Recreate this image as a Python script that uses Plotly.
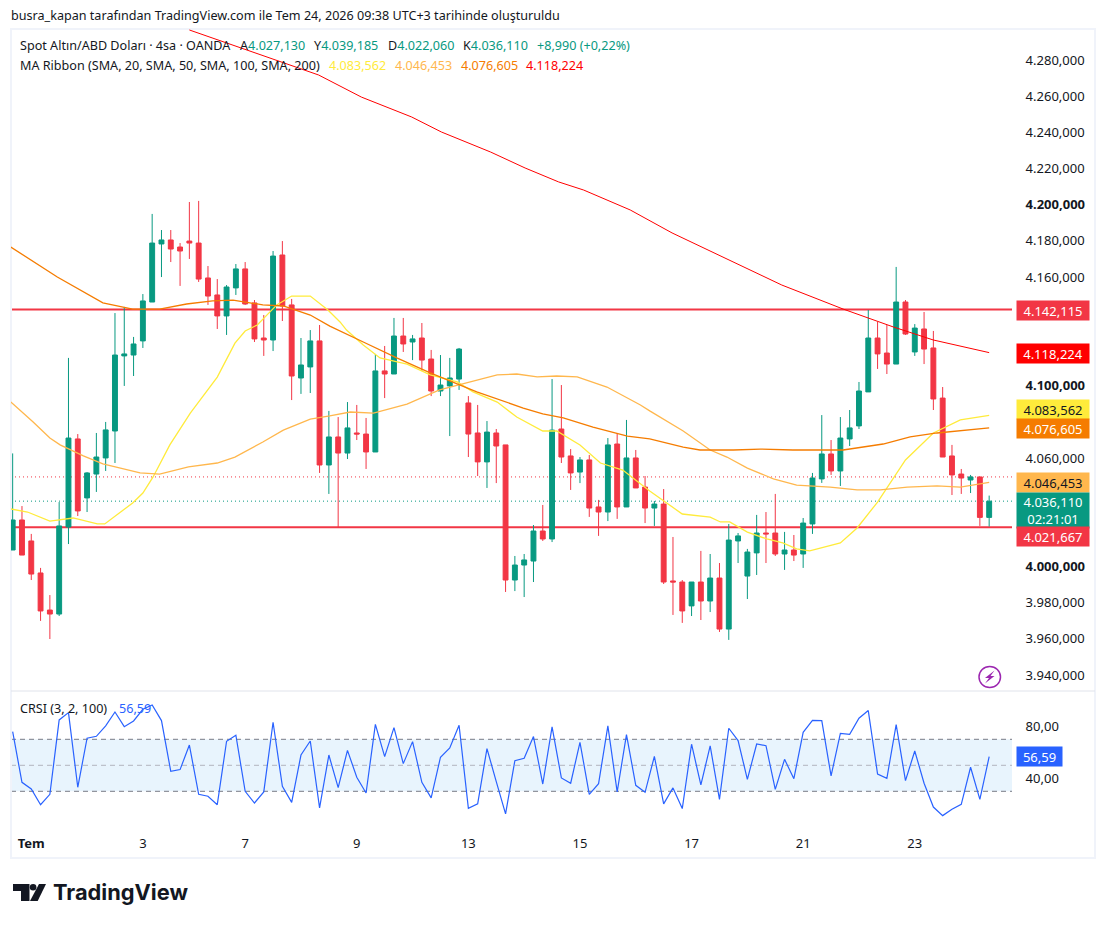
import plotly.graph_objects as go

# ---------- data (prices in thousands of the quoted unit) ----------
open_ = [4009.1,4025.7,4014.1,3996.4,3975.9,3973.7,4021.8,4070.5,4037.9,4051.1,4060.0,4074.9,4116.4,4116.9,4124.7,4146.2,
         4178.3,4180.5,4176.6,4179.9,4178.8,4159.5,4150.1,4138.5,4154.0,4164.5,4145.7,4126.3,4125.2,4172.2,4144.6,4104.2,
         4110.3,4124.7,4056.1,4071.6,4062.7,4073.8,4073.2,4063.3,4108.1,4106.4,4127.4,4124.1,4126.3,4114.7,4097.0,4099.8,
         4103.6,4090.4,4073.8,4057.8,4073.8,4067.2,3992.5,4000.8,4003.0,4019.6,4015.2,4076.0,4061.1,4052.2,4058.9,4032.9,
         4030.1,4067.7,4032.9,4060.0,4043.9,4032.3,4034.5,3992.0,3991.4,3978.2,3991.4,3980.9,3993.6,3965.4,4014.1,3994.7,
         4007.5,4018.5,4018.5,4006.9,4009.1,4006.9,4023.5,4048.4,4062.2,4052.8,4070.5,4077.7,4096.5,4126.3,4118.0,4111.9,
         4146.2,4118.6,4131.3,4120.8,4093.1,4061.1,4051.1,4047.8,4049.5,4027.13]
high_ = [4062.5,4033.4,4018.0,3999.2,3984.2,4035.6,4115.3,4073.2,4052.2,4073.8,4079.9,4140.1,4143.5,4126.9,4150.6,4194.9,
         4186.0,4186.0,4178.8,4201.5,4202.1,4166.1,4158.9,4155.6,4167.2,4168.3,4147.3,4139.0,4174.4,4179.9,4147.9,4126.3,
         4130.7,4133.5,4086.0,4082.6,4090.9,4089.3,4082.1,4117.5,4121.9,4137.4,4137.4,4128.0,4134.6,4119.7,4116.9,4115.3,
         4120.8,4094.2,4089.3,4080.4,4076.0,4067.2,4005.8,4006.9,4022.9,4034.0,4103.6,4100.3,4064.9,4060.5,4061.6,4036.8,
         4071.0,4073.8,4081.0,4064.4,4050.0,4036.2,4042.8,4016.3,3992.5,3991.4,4008.6,4006.9,4001.9,4023.5,4018.5,4009.7,
         4028.5,4030.1,4040.1,4019.1,4017.4,4026.8,4051.7,4083.7,4069.9,4082.6,4086.5,4102.0,4141.8,4135.2,4133.5,4165.6,
         4147.3,4134.0,4140.7,4130.2,4099.2,4067.2,4053.9,4050.6,4049.5,4039.185]
low_ = [4009.1,4006.3,3992.5,3969.9,3959.9,3972.6,4012.4,4027.9,4030.1,4041.2,4052.8,4057.2,4099.8,4105.3,4120.8,4146.2,
        4160.0,4168.3,4155.1,4170.0,4157.3,4144.6,4131.3,4128.0,4150.1,4144.6,4124.1,4116.4,4119.1,4135.7,4092.0,4095.4,
        4095.9,4051.7,4040.1,4021.3,4059.4,4069.9,4053.9,4063.3,4093.1,4106.4,4118.6,4114.1,4108.1,4094.2,4094.2,4072.1,
        4097.6,4060.5,4050.0,4043.4,4046.1,3985.9,3986.4,3983.1,3991.4,4014.1,4013.5,4057.2,4042.3,4046.1,4027.4,4016.9,
        4025.1,4026.3,4032.9,4043.4,4024.0,4022.4,3990.3,3973.2,3968.8,3972.6,3970.4,3974.8,3963.8,3959.4,4001.9,3982.0,
        3995.3,4001.9,4005.8,3998.1,4003.0,3999.2,4018.0,4046.2,4050.6,4044.5,4066.6,4076.0,4096.5,4109.2,4106.4,4111.9,
        4128.0,4116.4,4111.9,4086.5,4060.5,4039.5,4040.1,4040.6,4022.4,4022.06]
close_ = [4025.7,4006.3,3995.8,3975.4,3973.7,4022.4,4071.0,4030.7,4051.7,4060.5,4075.5,4116.9,4117.5,4123.0,4146.8,4178.8,
          4180.5,4175.5,4174.4,4178.8,4158.9,4149.5,4138.5,4154.5,4164.5,4145.1,4125.8,4125.2,4171.6,4144.0,4105.3,4111.4,
          4124.7,4056.1,4071.6,4062.7,4076.6,4073.2,4063.3,4108.1,4106.4,4127.4,4123.0,4125.8,4114.1,4097.0,4100.3,4104.2,
          4120.2,4073.2,4057.8,4074.3,4066.6,3992.5,4000.8,4003.6,4019.6,4015.2,4075.4,4060.5,4051.7,4058.9,4032.3,4030.1,
          4067.2,4032.9,4060.0,4043.4,4032.3,4034.5,3991.4,3991.4,3975.4,3991.4,3980.9,3993.6,3965.4,4014.6,4016.9,4008.0,
          4018.5,4018.0,4006.9,4009.1,4006.3,4024.0,4048.9,4062.2,4052.8,4071.0,4076.6,4097.0,4126.3,4117.5,4111.9,4146.2,
          4128.5,4131.8,4120.2,4092.6,4060.5,4050.6,4048.9,4049.5,4027.13,4036.11]
bars = list(range(len(close_)))

sma20_x = [-0.2,1.6,4.0,5.1,6.5,9.1,9.9,12.9,14.0,15.1,16.9,19.1,22.0,23.9,25.0,26.3,28.4,30.0,32.0,33.9,35.2,35.9,37.7,39.5,42.4,
           44.9,47.8,49.5,52.1,54.2,57.0,58.5,61.0,63.2,65.6,68.5,69.9,72.0,75.0,76.1,77.1,79.0,81.1,82.8,84.3,85.7,89.0,90.8,
           93.0,96.0,99.0,101.9,105]
sma20 = [4031.8,4030.1,4025.1,4025.7,4026.8,4023.5,4023.5,4035.1,4040.6,4049.5,4067.2,4084.8,4104.7,4123.5,4130.2,4133.5,4144.6,
         4149.5,4149.5,4141.8,4135.2,4130.7,4122.4,4115.3,4111.9,4105.9,4102.0,4096.5,4090.9,4082.6,4074.9,4074.9,4067.2,4057.2,
         4053.3,4041.7,4036.7,4029.0,4027.3,4024.6,4024.6,4019.0,4015.2,4013.0,4009.7,4008.6,4013.0,4021.3,4035.6,4058.9,4073.8,
         4081.0,4083.562]
sma50_x = [-0.2,2.2,4.0,5.1,7.6,9.7,13.7,15.8,18.9,22.0,23.9,26.9,29.1,32.0,34.1,36.3,38.8,42.4,45.9,49.9,52.1,54.2,56.4,58.5,60.7,
           63.9,67.5,68.5,72.1,75.0,76.8,79.0,81.8,84.3,87.9,90.8,93.3,96.2,99.4,101.9,105]
sma50 = [4090.9,4079.9,4071.0,4067.2,4061.1,4056.7,4051.7,4051.1,4055.0,4057.2,4060.5,4068.8,4075.4,4081.5,4083.2,4085.4,4084.8,
         4089.8,4097.6,4103.1,4105.9,4106.4,4104.8,4105.3,4104.8,4099.2,4089.3,4086.0,4074.9,4064.4,4060.5,4054.4,4048.4,4045.0,
         4043.9,4042.3,4042.3,4043.9,4044.5,4043.9,4046.453]
sma100_x = [-0.2,2.9,4.8,9.7,12.9,15.8,18.7,21.5,23.7,26.9,29.1,32.0,34.1,37.7,41.3,44.9,49.9,54.9,57.0,59.2,62.4,66.1,68.5,72.1,73.9,
            77.5,80.4,83.9,89.3,93.6,96.5,99.4,102.6,105]
sma100 = [4176.6,4166.1,4160.0,4145.7,4142.3,4142.3,4145.1,4146.8,4147.3,4144.6,4144.0,4139.0,4132.9,4124.1,4115.3,4107.0,4096.5,
          4087.6,4084.3,4082.1,4077.1,4072.1,4070.5,4066.0,4064.4,4064.4,4064.9,4064.4,4064.4,4067.7,4071.6,4073.8,4075.4,4076.605]
sma200_x = [19.0,25.2,32.9,37.5,42.9,46.1,51.4,55.1,58.7,61.4,66.4,70.9,76.4,82.7,89.3,94.7,99.0,105]
sma200 = [4296.6,4285.5,4271.7,4259.5,4248.5,4240.2,4229.1,4220.3,4212.6,4208.1,4197.1,4184.4,4171.1,4155.6,4142.3,4132.4,4125.2,4118.224]

crsi = [75.9,36.9,31.8,19.7,27.7,84.9,90.5,33.1,70.8,72.3,80.3,91.0,79.7,84.1,93.1,96.4,84.4,45.4,46.7,65.6,27.7,26.2,19.7,68.5,73.1,
        30.0,21.0,29.5,83.1,33.8,21.5,57.9,68.7,17.2,57.9,32.8,61.5,40.8,28.7,81.5,56.7,79.0,51.3,68.2,36.9,24.9,56.2,63.3,80.8,16.9,
        20.3,62.8,37.4,12.6,53.6,55.4,72.1,35.6,79.5,40.3,36.2,67.7,27.7,35.9,80.3,29.5,73.6,34.6,29.2,56.9,20.3,32.6,16.7,66.2,34.9,
        64.9,23.8,78.5,69.0,39.2,66.4,65.1,31.5,54.6,39.7,75.4,84.6,84.4,41.8,74.6,73.8,86.2,92.1,43.3,40.0,81.3,38.2,61.0,36.2,17.9,
        11.3,16.2,20.0,48.5,23.8,56.59]

price_ticks = [4280,4260,4240,4220,4200,4180,4160,4100,4060,4000,3980,3960,3940]
price_tick_labels = ["4.280,000","4.260,000","4.240,000","4.220,000","<b>4.200,000</b>","4.180,000","4.160,000",
                     "<b>4.100,000</b>","4.060,000","<b>4.000,000</b>","3.980,000","3.960,000","3.940,000"]
date_ticks = [2,14,25,37,49,61,73,85,97]
date_labels = ["<b>Tem</b>","3","7","9","13","15","17","21","23"]
crsi_ticks = [40,80]
crsi_tick_labels = ["40,00","80,00"]
support_levels = [4142.115,4021.667]
last_close = 4036.11
prev_close = 4049.5

# ---------- styling / layout helpers ----------
UP, DOWN = "#089981", "#f23645"
FONT = "Noto Sans"
INK = "#131722"
TXT = 12.6
L, R, T, B = 11, 1095, 29, 858     # outer frame in page pixels
AXIS_X, SPLIT, PANE_B = 1012, 691, 829
W, H = R - L, B - T
px = lambda x: (x - L) / W
py = lambda y: (B - y) / H

fig = go.Figure()
for xs, ys, col, lw in [(sma20_x, sma20, "#ffeb3b", 1.3), (sma50_x, sma50, "#ffb74d", 1.3),
                        (sma100_x, sma100, "#f57c00", 1.3), (sma200_x, sma200, "#ff0000", 1.0)]:
    fig.add_trace(go.Scatter(x=xs, y=ys, mode="lines", line=dict(color=col, width=lw), hoverinfo="skip"))
fig.add_trace(go.Candlestick(
    x=bars, open=open_, high=high_, low=low_, close=close_, whiskerwidth=0,
    increasing=dict(line=dict(color=UP, width=1), fillcolor=UP),
    decreasing=dict(line=dict(color=DOWN, width=1), fillcolor=DOWN)))
fig.add_trace(go.Scatter(x=bars, y=crsi, mode="lines", xaxis="x2", yaxis="y2",
                         line=dict(color="#2962ff", width=1.2), hoverinfo="skip"))

shapes = [
    dict(type="rect", xref="x2 domain", yref="y2", x0=0, x1=1, y0=30, y1=70, fillcolor="#e8f4fd", line_width=0, layer="below"),
    dict(type="line", xref="x2 domain", yref="y2", x0=0, x1=1, y0=70, y1=70, line=dict(color="#787b86", width=1, dash="5px,4px"), layer="below"),
    dict(type="line", xref="x2 domain", yref="y2", x0=0, x1=1, y0=30, y1=30, line=dict(color="#787b86", width=1, dash="5px,4px"), layer="below"),
    dict(type="line", xref="x2 domain", yref="y2", x0=0, x1=1, y0=50, y1=50, line=dict(color="#b2b5be", width=1, dash="5px,4px"), layer="below"),
    dict(type="line", xref="x domain", yref="y", x0=0, x1=1, y0=prev_close, y1=prev_close, line=dict(color=DOWN, width=1, dash="1px,3px"), layer="below"),
    dict(type="line", xref="x domain", yref="y", x0=0, x1=1, y0=last_close, y1=last_close, line=dict(color=UP, width=1, dash="1px,3px"), layer="below"),
]
for lv in support_levels:
    shapes.append(dict(type="line", xref="x domain", yref="y", x0=0, x1=1, y0=lv, y1=lv, line=dict(color=DOWN, width=2), layer="below"))
# outer frame + pane separator
shapes += [
    dict(type="rect", xref="paper", yref="paper", x0=0, x1=1, y0=0, y1=1, line=dict(color="#f0f3fa", width=2), layer="below"),
    dict(type="line", xref="paper", yref="paper", x0=0, x1=1, y0=py(SPLIT), y1=py(SPLIT), line=dict(color="#e0e3eb", width=1), layer="below"),
    # lightning badge
    dict(type="circle", xref="paper", yref="paper", x0=px(979), x1=px(1000.5), y0=py(666.5), y1=py(687.5),
         line=dict(color="#9c27b0", width=1.5), fillcolor="white"),
]
def poly(points, fill):
    d = "M" + " L".join(f"{px(x):.5f},{py(y):.5f}" for x, y in points) + " Z"
    return dict(type="path", xref="paper", yref="paper", path=d, fillcolor=fill, line_width=0)
shapes.append(poly([(994.5,670.5),(985,678),(989,678),(985,683.5),(994.5,676),(990.5,676)], "#9c27b0"))
# TradingView logo mark
shapes.append(poly([(13,884),(29.5,884),(29.5,901),(21,901),(21,891),(13,891)], "#131722"))
shapes.append(poly([(39,884),(46,884),(37.7,901),(30,901)], "#131722"))
shapes.append(dict(type="circle", xref="paper", yref="paper", x0=px(29.8), x1=px(36.4), y0=py(884), y1=py(890.6),
                   fillcolor="#131722", line_width=0))

ann = []
def text(x, y, s, size=TXT, color=INK, anchor="left", **font):
    ann.append(dict(xref="paper", yref="paper", x=px(x - 1), y=py(y), text=s, showarrow=False, xanchor=anchor, yanchor="middle",
                    borderpad=0, font=dict(family=font.pop("family", FONT), size=size, color=color, **font)))
def tag(yc, s, bg, fg="white", h=19, w=72, xc=1053):
    ann.append(dict(xref="paper", yref="paper", x=px(xc), y=py(yc), text=s, showarrow=False, xanchor="center", yanchor="middle",
                    width=w, height=h, borderpad=0, align="center", bgcolor=bg, font=dict(family=FONT, size=13, color=fg)))

text(11, 16, "busra_kapan tarafından TradingView.com ile Tem 24, 2026 09:38 UTC+3 tarihinde oluşturuldu")
G = "#089981"
text(20, 46, "Spot Altın/ABD Doları · 4sa · OANDA")
for x, head, val in [(240, "A", "4.027,130"), (314, "Y", "4.039,185"), (388, "D", "4.022,060"), (463, "K", "4.036,110")]:
    text(x, 46, f"{head}<span style='color:{G}'>{val}</span>")
text(537, 46, "+8,990 (+0,22%)", color=G)
text(20, 65, "MA Ribbon (SMA, 20, SMA, 50, SMA, 100, SMA, 200)")
for x, val, col in [(329, "4.083,562", "#ffeb3b"), (395, "4.046,453", "#ffb74d"), (461, "4.076,605", "#f57c00"), (526, "4.118,224", "#ff0000")]:
    text(x, 65, val, color=col)
text(20, 708, "CRSI (3, 2, 100)")
text(119, 708, "56,59", color="#2962ff")

tag(310, "4.142,115", DOWN)
tag(353.5, "4.118,224", "#ff0000")
tag(409.5, "4.083,562", "#ffeb3b", INK)
tag(428.5, "4.076,605", "#f57c00")
tag(482, "4.046,453", "#ffb74d", INK)
tag(510, "4.036,110<br>02:21:01", UP, h=35)
tag(536.5, "4.021,667", DOWN)
tag(756, "56,59", "#2962ff", w=45, xc=1039)
text(52.5, 892, "TradingView", size=21.8, family="Inter", weight=700)

x_end = (AXIS_X - L) / W
x_range = [(L - 12.67) / 9.3, (AXIS_X - 12.67) / 9.3]
y_top = 4280 + (60 - T) * 0.55285
y_bot = 4280 - (SPLIT - 60) * 0.55285
c_top = 50 + (765.3 - SPLIT) / 1.3
c_bot = 50 - (PANE_B - 765.3) / 1.3
tick_font = dict(family=FONT, size=13, color=INK)
fig.update_layout(
    width=1106, height=925, margin=dict(l=L, r=1106 - R, t=T, b=925 - B, pad=0),
    paper_bgcolor="white", plot_bgcolor="white", showlegend=False, hovermode=False,
    boxgap=0.25, shapes=shapes, annotations=ann,
    xaxis=dict(domain=[0, x_end], range=x_range, anchor="y", rangeslider=dict(visible=False), showgrid=False,
               zeroline=False, showticklabels=False, ticks="", showline=False),
    xaxis2=dict(domain=[0, x_end], range=x_range, anchor="y2", matches="x", showgrid=False, zeroline=False, showline=False,
                tickmode="array", tickvals=date_ticks, ticktext=date_labels, ticks="outside", ticklen=2,
                tickcolor="rgba(0,0,0,0)", tickfont=tick_font),
    yaxis=dict(domain=[py(SPLIT), 1], range=[y_bot, y_top], side="right", anchor="x", showgrid=False, zeroline=False,
               showline=False, tickmode="array", tickvals=price_ticks, ticktext=price_tick_labels, ticks="outside", ticklen=10,
               tickcolor="rgba(0,0,0,0)", tickfont=tick_font),
    yaxis2=dict(domain=[py(PANE_B), py(SPLIT)], range=[c_bot, c_top], side="right", anchor="x2", showgrid=False, zeroline=False,
                showline=False, tickmode="array", tickvals=crsi_ticks, ticktext=crsi_tick_labels, ticks="outside", ticklen=10,
                tickcolor="rgba(0,0,0,0)", tickfont=tick_font),
)
fig.write_html("out.html", config={"displayModeBar": False}, post_script="document.body.style.margin='0';")
